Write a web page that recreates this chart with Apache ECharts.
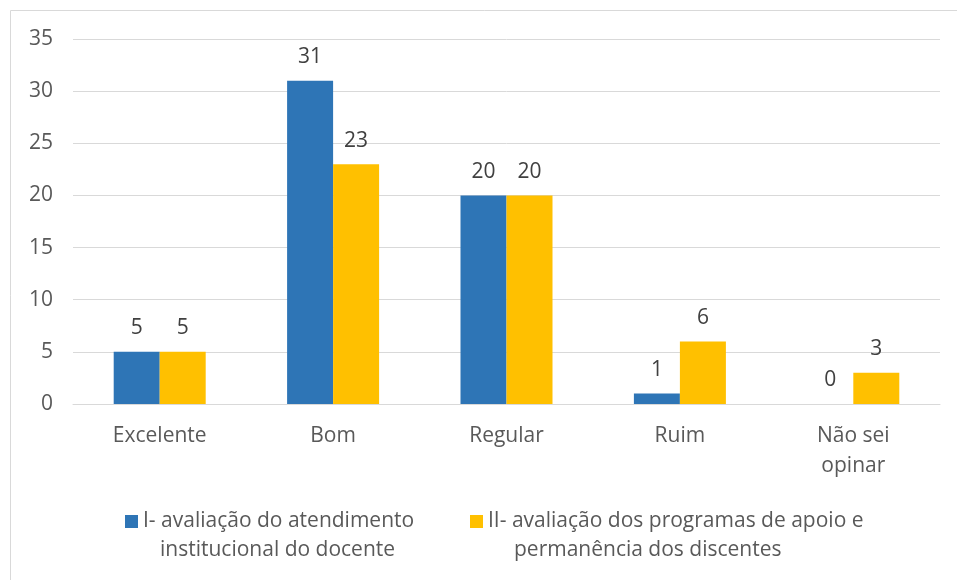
<!DOCTYPE html>
<html>
<head>
<meta charset="utf-8">
<script src="https://cdn.jsdelivr.net/npm/echarts@6/dist/echarts.min.js"></script>
<style>
  html, body { margin: 0; padding: 0; background: #fff; }
  #chart { width: 957px; height: 580px; }
</style>
</head>
<body>
<div id="chart"></div>
<script>
var categories = ['Excelente', 'Bom', 'Regular', 'Ruim', 'Não sei\nopinar'];
var serieI = [5, 31, 20, 1, 0];
var serieII = [5, 23, 20, 6, 3];
var nameI = 'I- avaliação do atendimento institucional do docente';
var nameII = 'II- avaliação dos programas de apoio e permanência dos discentes';
var legendLines = {};
legendLines[nameI] = ['I- avaliação do atendimento', 'institucional do docente', 17];
legendLines[nameII] = ['II- avaliação dos programas de apoio e', 'permanência dos discentes', 26];

var fontName = '"Open Sans", "Noto Sans", sans-serif';
var fSize = 21;
var myChart = echarts.init(document.getElementById('chart'));

function legendOpt(name, left) {
	var l = legendLines[name];
	return {
		data: [name],
		left: left,
		top: 482,
		padding: 0,
		itemWidth: 13,
		itemHeight: 13,
		itemGap: 0,
		icon: 'rect',
		selectedMode: false,
		formatter: function () {
			// empty first line keeps the square level with line one
			return '{e| }\n{a|' + l[0] + '}\n{b|' + l[1] + '}';
		},
		textStyle: {
			rich: {
				e: { fontSize: fSize, lineHeight: 29, fontFamily: fontName },
				a: { fontSize: fSize, lineHeight: 29, color: '#595959', fontFamily: fontName },
				b: { fontSize: fSize, lineHeight: 29, color: '#595959', fontFamily: fontName, padding: [0, 0, 0, l[2]] }
			}
		}
	};
}

var option = {
	animation: false,
	textStyle: { fontFamily: fontName },
	graphic: [{
		type: 'rect',
		shape: { x: 10.5, y: 10.5, width: 980, height: 600 },
		style: { fill: 'none', stroke: '#d9d9d9', lineWidth: 1 },
		silent: true
	}],
	grid: { left: 73, right: 17, top: 39, bottom: 176 },
	legend: [legendOpt(nameI, 125), legendOpt(nameII, 470)],
	xAxis: {
		type: 'category',
		data: categories,
		axisLine: { lineStyle: { color: '#d9d9d9', width: 1 } },
		axisTick: { show: false },
		axisLabel: {
			color: '#595959',
			fontSize: fSize,
			lineHeight: 30,
			margin: 17,
			fontFamily: fontName
		}
	},
	yAxis: {
		type: 'value',
		min: 0,
		max: 35,
		interval: 5,
		axisLine: { show: false },
		axisTick: { show: false },
		axisLabel: { color: '#595959', fontSize: fSize, margin: 20, fontFamily: fontName },
		splitLine: { lineStyle: { color: '#d9d9d9', width: 1 } }
	},
	series: [
		{
			name: nameI,
			type: 'bar',
			data: serieI,
			barWidth: 46,
			barGap: '0%',
			itemStyle: { color: '#2E75B6' },
			label: { show: true, position: 'top', distance: 13, color: '#404040', fontSize: fSize, fontFamily: fontName }
		},
		{
			name: nameII,
			type: 'bar',
			data: serieII,
			barWidth: 46,
			barGap: '0%',
			itemStyle: { color: '#FFC000' },
			label: { show: true, position: 'top', distance: 13, color: '#404040', fontSize: fSize, fontFamily: fontName }
		}
	]
};
myChart.setOption(option);
</script>
</body>
</html>
